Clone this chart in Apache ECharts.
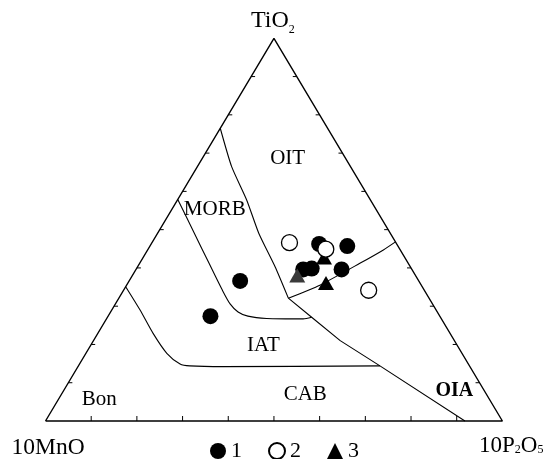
<!DOCTYPE html>
<html><head><meta charset="utf-8">
<script src="https://cdn.jsdelivr.net/npm/echarts@6/dist/echarts.min.js"></script>
<style>html,body{margin:0;padding:0;background:#fff}#c{width:546px;height:459px}</style>
</head><body><div id="c"></div>
<script>
// Ternary compositions, in percent: [TiO2, 10MnO, 10P2O5]
const apexes = [[0, 100, 0], [0, 0, 100], [100, 0, 0]];

// field boundaries
const oitMorb = [[76.5,23.5,0],[66.4,26.0,7.5],[57.7,27.1,15.2],[49.0,28.8,22.2],[40.3,29.6,30.1],[32.1,30.8,37.1]];
const oitOia  = [[32.1,30.8,37.1],[35.5,22.2,42.3],[41.2,10.6,48.2],[44.7,3.7,51.6],[46.8,0,53.2]];
const cabOia  = [[32.1,30.8,37.1],[27.1,28.2,44.7],[21.0,25.0,54.0],[14.4,19.6,66.0],[0,8.2,91.8]];
const morbIat = [[57.9,42.1,0],[49.0,42.9,8.1],[41.2,43.6,15.2],[34.2,44.2,21.6],[30.6,44.3,25.1],[28.5,43.6,27.9],[27.4,42.0,30.6],[26.8,38.2,35.0],[26.7,30.3,43.1],[27.1,28.2,44.7]];
const iatBon  = [[35.1,64.9,0],[29.0,64.8,6.2],[22.9,65.0,12.1],[17.7,64.6,17.7],[14.9,63.1,22.0],[14.4,61.2,24.4],[14.2,54.0,31.8],[14.4,19.6,66.0]];

// samples
const group1 = [[46.3,17.0,36.8],[45.7,11.1,43.2],[39.6,23.8,36.6],[39.8,21.8,38.3],[39.6,15.4,45.0],[36.6,39.1,24.3],[27.4,50.2,22.4]];
const group2 = [[46.6,23.3,30.1],[44.9,16.2,38.9],[34.2,12.2,53.7]];
const group3 = [[38.0,25.9,36.1],[42.7,17.7,39.6],[36.1,20.6,43.4]];

const seriesNames = ['1', '2', '3'];

// field names and their ternary anchor
const fieldNames = ['OIT', 'MORB', 'IAT', 'CAB', 'Bon', 'OIA'];
const fieldAnchors = [[68.6,12.7,18.7],[55.3,35.3,9.4],[19.7,42.5,37.9],[6.9,39.7,53.4],[5.7,85.4,8.9],[8.0,6.5,85.5]];

const tickSteps = [10, 20, 30, 40, 50, 60, 70, 80, 90];

const FONT = '"Liberation Serif", "Times New Roman", serif';

function toXY(t) {
  const s = t[0] + t[1] + t[2];
  const T = t[0] / s, P = t[2] / s;
  return [P + T / 2, T];
}
const line = arr => arr.map(toXY);

// ticks: [x, y, edge]
const ticks = [];
tickSteps.forEach(k => {
  ticks.push(toXY([0, 100 - k, k]).concat([0]));      // base
  ticks.push(toXY([k, 100 - k, 0]).concat([1]));      // left edge
  ticks.push(toXY([k, 0, 100 - k]).concat([2]));      // right edge
});

const boundaryStyle = { color: '#000', width: 1.1 };
function boundary(data, smooth) {
  return { type: 'line', data: line(data), symbol: 'none', smooth: smooth || false,
    lineStyle: boundaryStyle, clip: false, silent: true, z: 2 };
}

const chart = echarts.init(document.getElementById('c'), null, { renderer: 'canvas' });
const option = {
  animation: false,
  backgroundColor: '#fff',
  grid: { left: 45.5, right: 43.6, top: 38.3, bottom: 38, containLabel: false },
  xAxis: { type: 'value', min: 0, max: 1, show: false },
  yAxis: { type: 'value', min: 0, max: 1, show: false },
  legend: {
    left: 210, top: 440, padding: 0, itemWidth: 16, itemHeight: 16, itemGap: 26,
    selectedMode: false,
    textStyle: { fontFamily: FONT, fontSize: 22, color: '#000' },
    data: [{ name: seriesNames[0], icon: 'circle' }, { name: seriesNames[1], icon: 'circle' }, { name: seriesNames[2], icon: 'triangle' }]
  },
  graphic: [
    { type: 'text', x: 251, y: 8.5, silent: true, style: {
      text: '{m|TiO}{s|2}', align: 'left', verticalAlign: 'top',
      rich: { m: { fontFamily: FONT, fontSize: 24, lineHeight: 24, verticalAlign: 'top', fill: '#000' },
              s: { fontFamily: FONT, fontSize: 12, lineHeight: 12, padding: [15, 0, 0, 0], verticalAlign: 'top', fill: '#000' } } } },
    { type: 'text', x: 11.5, y: 448, silent: true, style: {
      text: '10MnO', fontFamily: FONT, fontSize: 23.5, fill: '#000', align: 'left', verticalAlign: 'middle' } },
    { type: 'text', x: 479, y: 434.3, silent: true, style: {
      text: '{m|10P}{s|2}{m|O}{s|5}', align: 'left', verticalAlign: 'top',
      rich: { m: { fontFamily: FONT, fontSize: 23, lineHeight: 23, verticalAlign: 'top', fill: '#000' },
              s: { fontFamily: FONT, fontSize: 12, lineHeight: 12, padding: [10, 0, 0, 0], verticalAlign: 'top', fill: '#000' } } } }
  ],
  series: [
    { type: 'line', data: line(apexes.concat([apexes[0]])), symbol: 'none',
      lineStyle: { color: '#000', width: 1.4 }, clip: false, silent: true, z: 2 },
    boundary(oitMorb, 0.2),
    boundary(oitOia, 0.2),
    boundary(cabOia),
    boundary(morbIat, 0.25),
    boundary(iatBon, 0.25),
    { type: 'custom', data: ticks, silent: true, clip: false, z: 2,
      renderItem: function (params, api) {
        const p = api.coord([api.value(0), api.value(1)]);
        const e = api.value(2);
        const d = e === 0 ? [0, -5] : (e === 1 ? [4, 0] : [-4, 0]);
        return { type: 'line', shape: { x1: p[0], y1: p[1], x2: p[0] + d[0], y2: p[1] + d[1] },
          style: { stroke: '#000', lineWidth: 1 } };
      } },
    { type: 'custom', data: fieldAnchors.map((a, i) => toXY(a).concat([i])), silent: true, clip: false, z: 3,
      renderItem: function (params, api) {
        const p = api.coord([api.value(0), api.value(1)]);
        const name = fieldNames[api.value(2)];
        const bold = name === 'OIA';
        return { type: 'text', x: p[0], y: p[1], style: {
          text: name, fill: '#000', fontFamily: FONT, fontSize: bold ? 20 : 21,
          fontWeight: bold ? 'bold' : 'normal', align: 'center', verticalAlign: 'middle' } };
      } },
    { name: seriesNames[0], type: 'scatter', data: line(group1), symbol: 'circle', symbolSize: 16,
      itemStyle: { color: '#000', opacity: 1 }, z: 4, clip: false },
    { name: seriesNames[2], type: 'scatter', symbol: 'triangle', symbolSize: [16, 14], z: 4, clip: false,
      itemStyle: { color: '#000', opacity: 1 },
      data: line(group3).map((v, i) => i === 0 ? { value: v, itemStyle: { color: '#3a3a3a' } } : v) },
    { name: seriesNames[1], type: 'scatter', data: line(group2), symbol: 'circle', symbolSize: 16,
      itemStyle: { color: '#fff', borderColor: '#000', borderWidth: 1.3, opacity: 1 }, z: 4, clip: false }
  ]
};
chart.setOption(option);
</script></body></html>
